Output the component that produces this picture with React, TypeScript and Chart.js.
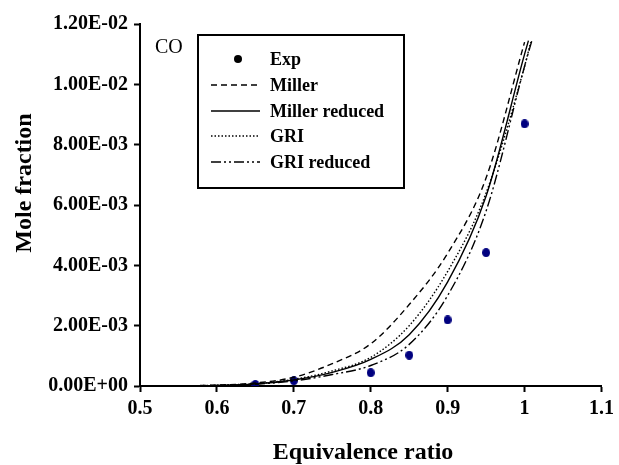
import React, { useEffect, useRef } from "react";
import { Chart, registerables } from "chart.js";

Chart.register(...registerables);

const expPhi = [0.65, 0.7, 0.8, 0.85, 0.9, 0.95, 1.0];
const expCO = [5e-5, 1.76e-4, 4.4e-4, 1.02e-3, 2.19e-3, 4.42e-3, 8.69e-3];

const millerPhi = [0.5, 0.55, 0.6, 0.65, 0.7, 0.75, 0.8, 0.85, 0.9, 0.95, 1.0];
const millerCO = [0, 5e-6, 3e-5, 1e-4, 2.9e-4, 7.4e-4, 1.4e-3, 2.7e-3, 4.4e-3, 6.9e-3, 1.14e-2];

const millerRedPhi = [0.5, 0.55, 0.6, 0.65, 0.7, 0.75, 0.8, 0.85, 0.9, 0.95, 1.0, 1.005];
const millerRedCO = [0, 3e-6, 2e-5, 7e-5, 2e-4, 4.5e-4, 8.8e-4, 1.7e-3, 3.45e-3, 6.3e-3, 1.1e-2, 1.145e-2];

const griPhi = [0.5, 0.55, 0.6, 0.65, 0.7, 0.75, 0.8, 0.85, 0.9, 0.95, 1.0, 1.008];
const griCO = [0, 4e-6, 2.5e-5, 8e-5, 2.2e-4, 5e-4, 9.5e-4, 2.0e-3, 3.8e-3, 6.4e-3, 1.06e-2, 1.14e-2];

const griRedPhi = [0.5, 0.55, 0.6, 0.65, 0.7, 0.75, 0.8, 0.85, 0.9, 0.95, 1.0, 1.01];
const griRedCO = [0, 2e-6, 1.5e-5, 6e-5, 1.7e-4, 3.8e-4, 6.8e-4, 1.38e-3, 3.0e-3, 5.8e-3, 1.06e-2, 1.15e-2];

const legendLabels = ["Exp", "Miller", "Miller reduced", "GRI", "GRI reduced"];
const xTicks = [0.5, 0.6, 0.7, 0.8, 0.9, 1.0, 1.1];

const DASH_MILLER = [6, 4];
const DASH_SOLID: number[] = [];
const DASH_GRI = [1.5, 2];
const DASH_GRIRED = [10, 3, 2, 3, 2, 3];

function pts(xs: number[], ys: number[]) {
  return xs.map((x, i) => ({ x, y: ys[i] }));
}

function fmtExp(v: number): string {
  if (Math.abs(v) < 1e-12) return "0.00E+00";
  const e = Math.floor(Math.log10(Math.abs(v)) + 1e-9);
  const m = v / Math.pow(10, e);
  return m.toFixed(2) + "E" + (e < 0 ? "-" : "+") + String(Math.abs(e)).padStart(2, "0");
}

function ellipseImage(color: string, w: number, h: number) {
  const c = document.createElement("canvas");
  c.width = w;
  c.height = h;
  const ctx = c.getContext("2d")!;
  ctx.fillStyle = color;
  ctx.beginPath();
  ctx.ellipse(w / 2, h / 2, w / 2, h / 2, 0, 0, Math.PI * 2);
  ctx.fill();
  return c;
}

const FONT = "'Liberation Serif', 'Times New Roman', serif";

export default function App() {
  const ref = useRef<HTMLCanvasElement>(null);
  useEffect(() => {
    document.body.style.margin = "0";
    const canvas = ref.current!;
    const dots = ellipseImage("#00007F", 8, 9);

    const overlay = {
      id: "overlay",
      afterDraw(chart: any) {
        const ctx = chart.ctx as CanvasRenderingContext2D;
        ctx.save();
        // axis titles
        ctx.fillStyle = "#000";
        ctx.font = `bold 24px ${FONT}`;
        ctx.textAlign = "center";
        ctx.textBaseline = "alphabetic";
        ctx.fillText("Equivalence ratio", 363, 459);
        ctx.save();
        ctx.translate(31, 183);
        ctx.rotate(-Math.PI / 2);
        ctx.fillText("Mole fraction", 0, 0);
        ctx.restore();
        // CO label
        ctx.font = `20px ${FONT}`;
        ctx.textAlign = "left";
        ctx.textBaseline = "middle";
        ctx.fillText("CO", 155, 48);
        // legend box
        ctx.strokeStyle = "#000";
        ctx.lineWidth = 2;
        ctx.strokeRect(198, 35, 206, 153);
        const ys = [59, 85, 111, 136, 162];
        const dashes = [null, DASH_MILLER, DASH_SOLID, DASH_GRI, DASH_GRIRED];
        ctx.font = `bold 18px ${FONT}`;
        legendLabels.forEach((lab, i) => {
          const y = ys[i];
          if (i === 0) {
            ctx.fillStyle = "#000";
            ctx.beginPath();
            ctx.arc(238, y, 4, 0, Math.PI * 2);
            ctx.fill();
          } else {
            ctx.setLineDash(dashes[i] as number[]);
            ctx.lineWidth = 1.5;
            ctx.beginPath();
            ctx.moveTo(211, y);
            ctx.lineTo(260, y);
            ctx.stroke();
            ctx.setLineDash([]);
          }
          ctx.fillStyle = "#000";
          ctx.textBaseline = "middle";
          ctx.fillText(lab, 270, y + 1);
        });
        ctx.restore();
      },
    };

    const lineDs = (label: string, xs: number[], ys: number[], dash: number[]) => ({
      label,
      data: pts(xs, ys),
      showLine: true,
      borderColor: "#000",
      borderWidth: 1.4,
      borderDash: dash,
      pointRadius: 0,
      cubicInterpolationMode: "monotone" as const,
      fill: false,
    });

    const chart = new Chart(canvas, {
      type: "scatter",
      data: {
        datasets: [
          lineDs("Miller", millerPhi, millerCO, DASH_MILLER),
          lineDs("Miller reduced", millerRedPhi, millerRedCO, DASH_SOLID),
          lineDs("GRI", griPhi, griCO, DASH_GRI),
          lineDs("GRI reduced", griRedPhi, griRedCO, DASH_GRIRED),
          {
            label: "Exp",
            data: pts(expPhi, expCO),
            showLine: false,
            pointStyle: dots as any,
            pointRadius: 4,
            backgroundColor: "#00007F",
            borderColor: "#00007F",
          },
        ],
      },
      options: {
        responsive: false,
        animation: false,
        events: [],
        layout: { padding: { top: 24, right: 16, left: 0, bottom: 0 } },
        plugins: {
          legend: { display: false },
          tooltip: { enabled: false },
        },
        scales: {
          x: {
            type: "linear",
            min: 0.5,
            max: 1.1,
            afterBuildTicks: (s: any) => {
              s.ticks = xTicks.map((v) => ({ value: v }));
            },
            afterFit: (s: any) => {
              s.height = 79;
            },
            ticks: {
              color: "#000",
              font: { family: FONT, size: 20, weight: "bold" },
              padding: 5,
              maxRotation: 0,
              callback: (v: any) => String(Number(Number(v).toFixed(1))),
            },
            grid: {
              display: true,
              drawOnChartArea: false,
              drawTicks: true,
              tickLength: 6,
              tickWidth: 2,
              color: "#000",
            },
            border: { display: true, color: "#000", width: 2 },
          },
          y: {
            type: "linear",
            min: 0,
            max: 0.012,
            ticks: {
              stepSize: 0.002,
              color: "#000",
              font: { family: FONT, size: 20, weight: "bold" },
              padding: 6,
              callback: (v: any) => fmtExp(Number(v)),
            },
            afterFit: (s: any) => {
              s.width = 140;
            },
            grid: {
              display: true,
              drawOnChartArea: false,
              drawTicks: true,
              tickLength: 6,
              tickWidth: 2,
              color: "#000",
            },
            border: { display: true, color: "#000", width: 2 },
          },
        },
      },
      plugins: [overlay],
    } as any);
    return () => chart.destroy();
  }, []);
  return (
    <div style={{ position: "absolute", left: 0, top: 0, width: 619, height: 465, background: "#fff" }}>
      <canvas ref={ref} width={619} height={465} style={{ width: 619, height: 465 }} />
    </div>
  );
}
